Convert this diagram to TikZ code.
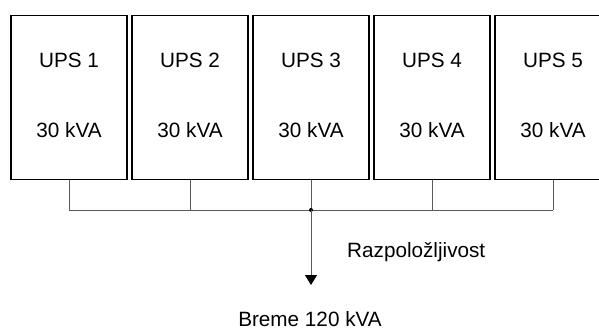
\documentclass[tikz,border=0pt]{standalone}
\usepackage{fontspec}
\setmainfont{Liberation Sans}
\usetikzlibrary{arrows.meta}
\begin{document}
\begin{tikzpicture}[x=1pt,y=1pt,
  font=\fontsize{20.7}{24}\selectfont,
  upsbox/.style={draw=black,line width=1.6pt,minimum width=116pt,minimum height=164pt,inner sep=0pt},
  wire/.style={draw=black!65,line width=1pt},
  lbl/.style={inner sep=0pt}]
\clip (0,0) rectangle (599,-329);
\fill[white] (0,0) rectangle (599,-329);
% five UPS modules side by side
\foreach \i/\x in {1/69,2/190,3/311,4/432,5/553}{
  \node[upsbox] (u\i) at (\x,-97.5) {};
  \node[lbl] (n\i) at ([yshift=37]u\i.center) {UPS \i};
  \node[lbl] (c\i) at ([yshift=-33]u\i.center) {30 kVA};
}
% common output bus
\coordinate (j) at (311,-210);
\coordinate (load) at (311,-285);
\foreach \i in {1,...,5}{
  \draw[wire] (u\i.south) -- (u\i.south |- j);
}
\draw[wire] (u1.south |- j) -- (u5.south |- j);
\fill[black] (j) circle (2pt);
\draw[wire,-{Triangle[length=10pt,width=12pt,color=black]}] (j) -- (load);
\node[lbl,anchor=west] (razp) at (347,-252) {Razpoložljivost};
\node[lbl] (breme) at (310,-319) {Breme 120 kVA};
\end{tikzpicture}
\end{document}
